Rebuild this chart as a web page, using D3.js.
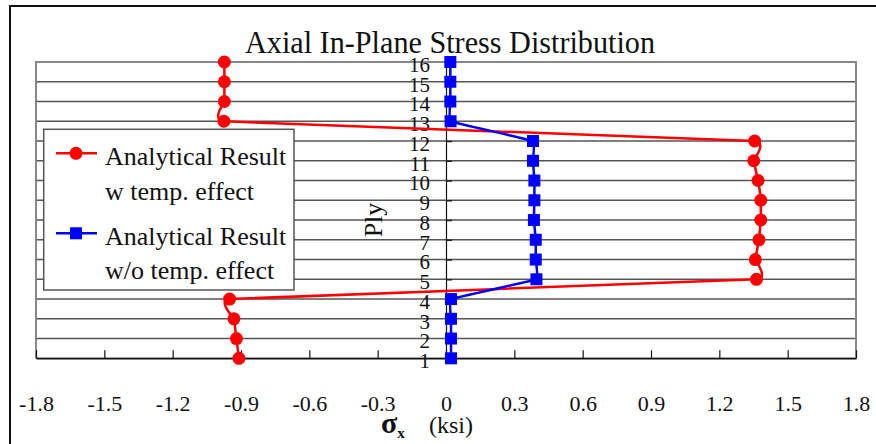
<!DOCTYPE html>
<html>
<head>
<meta charset="utf-8">
<script src="https://cdn.jsdelivr.net/npm/d3@7"></script>
<style>
  html, body { margin: 0; padding: 0; background: #fff; }
  svg { display: block; }
  text { font-family: "Liberation Serif", "Times New Roman", serif; fill: #111; }
</style>
</head>
<body>
<svg id="chart" width="876" height="444"></svg>
<script>
// ---- data ----
const plies = [1, 2, 3, 4, 5, 6, 7, 8, 9, 10, 11, 12, 13, 14, 15, 16];
const withTemp = [-0.909, -0.920, -0.931, -0.950, 1.363, 1.358, 1.374, 1.382, 1.382, 1.370, 1.351, 1.355, -0.975, -0.973, -0.973, -0.973];
const withoutTemp = [0.022, 0.022, 0.022, 0.022, 0.397, 0.394, 0.394, 0.386, 0.388, 0.388, 0.382, 0.382, 0.020, 0.019, 0.019, 0.019];
const xTicks = [-1.8, -1.5, -1.2, -0.9, -0.6, -0.3, 0, 0.3, 0.6, 0.9, 1.2, 1.5, 1.8];
const xTickLabels = ["-1.8", "-1.5", "-1.2", "-0.9", "-0.6", "-0.3", "0", "0.3", "0.6", "0.9", "1.2", "1.5", "1.8"];
const seriesNames = [["Analytical Result", "w temp. effect"], ["Analytical Result", "w/o temp. effect"]];
const title = "Axial In-Plane Stress Distribution";

// ---- layout ----
const svg = d3.select("#chart");
const x = d3.scaleLinear().domain([-1.8, 1.8]).range([36, 856]);
const y = d3.scaleLinear().domain([1, 16]).range([358.3, 62]);

// outer frame
svg.append("path")
  .attr("d", "M10,460 L10,6 L890,6")
  .attr("fill", "none").attr("stroke", "#111").attr("stroke-width", 2);

// title
svg.append("text")
  .attr("x", 450).attr("y", 53)
  .attr("text-anchor", "middle")
  .attr("font-size", 31)
  .attr("textLength", 410).attr("lengthAdjust", "spacingAndGlyphs")
  .text(title);

// gridlines
svg.append("g").selectAll("line").data(plies).join("line")
  .attr("x1", x(-1.8)).attr("x2", x(1.8))
  .attr("y1", d => y(d)).attr("y2", d => y(d))
  .attr("stroke", "#555").attr("stroke-width", 1.5);

// plot border (left, top, right)
svg.append("path")
  .attr("d", `M${x(-1.8)},${y(1)} L${x(-1.8)},${y(16)} L${x(1.8)},${y(16)} L${x(1.8)},${y(1)}`)
  .attr("fill", "none").attr("stroke", "#888").attr("stroke-width", 2);

// bottom axis
const xAxis = d3.axisBottom(x)
  .tickValues(xTicks)
  .tickFormat((d, i) => xTickLabels[i])
  .tickSize(-8).tickSizeOuter(0).tickPadding(37);
const gx = svg.append("g").attr("transform", `translate(0,${y(1)})`).call(xAxis);
gx.select(".domain").attr("stroke", "#111").attr("stroke-width", 1.5);
gx.selectAll(".tick line").attr("stroke", "#111").attr("stroke-width", 1.2);
gx.selectAll(".tick text").attr("font-size", 22).attr("font-family", "Liberation Serif, serif").attr("fill", "#111");

// y axis at x = 0
const yAxis = d3.axisLeft(y)
  .tickValues(plies)
  .tickFormat(d3.format("d"))
  .tickSize(-6).tickSizeOuter(0).tickPadding(16);
const gy = svg.append("g").attr("transform", `translate(${x(0)},0)`).call(yAxis);
gy.select(".domain").attr("stroke", "#111").attr("stroke-width", 1.2);
gy.selectAll(".tick line").attr("stroke", "#222").attr("stroke-width", 1.5);
gy.selectAll(".tick text").attr("font-size", 21).attr("dy", "0.45em")
  .attr("font-family", "Liberation Serif, serif").attr("fill", "#111");

// axis titles
svg.append("text")
  .attr("transform", "translate(382,220) rotate(-90)")
  .attr("text-anchor", "middle").attr("font-size", 26)
  .text("Ply");

const xl = svg.append("text").attr("x", 381).attr("y", 433).attr("font-size", 24);
xl.append("tspan").attr("font-weight", "bold").attr("font-size", 30).text("σ");
xl.append("tspan").attr("font-weight", "bold").attr("font-size", 15).attr("dy", 5).text("x");
xl.append("tspan").attr("x", 429).attr("dy", -5).text("(ksi)");

// series
const lineGen = vals => d3.line()
  .x((d, i) => x(vals[i]))
  .y(d => y(d))
  .curve(d3.curveCardinal.tension(0.85))(plies);

svg.append("path")
  .attr("d", lineGen(withTemp))
  .attr("fill", "none").attr("stroke", "#ff0000").attr("stroke-width", 2.5);
svg.append("g").selectAll("circle").data(plies).join("circle")
  .attr("cx", (d, i) => x(withTemp[i])).attr("cy", d => y(d)).attr("r", 6.5)
  .attr("fill", "#ff0000");

svg.append("path")
  .attr("d", lineGen(withoutTemp))
  .attr("fill", "none").attr("stroke", "#0000ff").attr("stroke-width", 2.5);
svg.append("g").selectAll("rect").data(plies).join("rect")
  .attr("x", (d, i) => x(withoutTemp[i]) - 6).attr("y", d => y(d) - 6)
  .attr("width", 12).attr("height", 12)
  .attr("fill", "#0000ff");

// legend
const lg = svg.append("g");
lg.append("rect")
  .attr("x", 43.7).attr("y", 129.3).attr("width", 250.3).attr("height", 160.7)
  .attr("fill", "#fff").attr("stroke", "#555").attr("stroke-width", 1.5);
const legendItems = [
  { color: "#ff0000", shape: "circle", ly: 153.3, names: seriesNames[0], b1: 165, b2: 200 },
  { color: "#0000ff", shape: "square", ly: 233.3, names: seriesNames[1], b1: 245, b2: 279 }
];
legendItems.forEach(it => {
  lg.append("line").attr("x1", 56).attr("x2", 97).attr("y1", it.ly).attr("y2", it.ly)
    .attr("stroke", it.color).attr("stroke-width", 2.5);
  if (it.shape === "circle") {
    lg.append("circle").attr("cx", 76).attr("cy", it.ly).attr("r", 6.5).attr("fill", it.color);
  } else {
    lg.append("rect").attr("x", 70).attr("y", it.ly - 6).attr("width", 12).attr("height", 12).attr("fill", it.color);
  }
  lg.append("text").attr("x", 105).attr("y", it.b1).attr("font-size", 26).text(it.names[0]);
  lg.append("text").attr("x", 105).attr("y", it.b2).attr("font-size", 26).text(it.names[1]);
});
</script>
</body>
</html>
